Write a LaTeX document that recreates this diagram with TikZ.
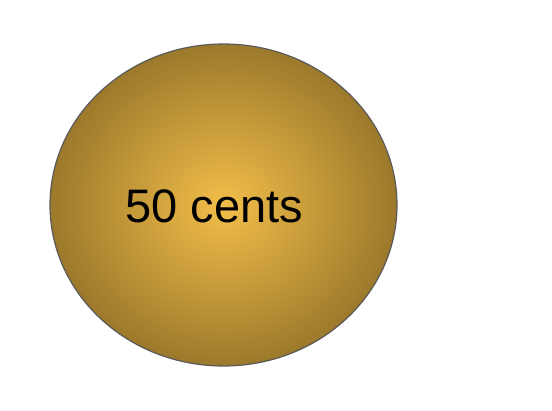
\documentclass[tikz,border=0pt]{standalone}
\usepackage{fontspec}
\setmainfont{Liberation Sans}
\usetikzlibrary{shapes.geometric}
\definecolor{coinmid}{HTML}{F2BE4A}
\definecolor{coinrim}{HTML}{9C792B}
\definecolor{coinedge}{HTML}{5A5A5A}

\begin{document}
\begin{tikzpicture}[x=1pt,y=1pt]
  % Page frame
  \useasboundingbox (0,0) rectangle (552,410);

  % The coin
  \node[ellipse, draw=coinedge, line width=1.2pt, inner sep=0pt,
    minimum width=347pt, minimum height=322pt,
    inner color=coinmid, outer color=coinrim] (coin) at (223.5,205) {};

  % Its value
  \node[anchor=base, inner sep=0pt, font=\fontsize{47}{53}\selectfont]
    (value) at (214.5,187) {50 cents};
\end{tikzpicture}
\end{document}
